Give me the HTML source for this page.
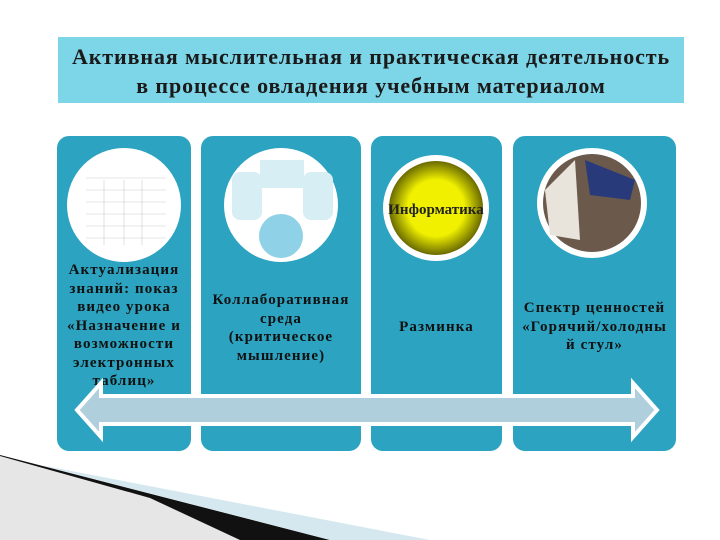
<!DOCTYPE html>
<html><head><meta charset="utf-8"><style>
body{margin:0;width:720px;height:540px;background:#fff;position:relative;overflow:hidden;font-family:"Liberation Serif",serif}
.t{position:absolute;left:58px;top:37px;width:626px;height:66px;background:#7dd5e8;color:#1a1a1a;font-weight:bold;font-size:22px;letter-spacing:0.9px;text-align:center;line-height:29px;padding-top:5px;box-sizing:border-box;white-space:nowrap}
.p{position:absolute;top:136px;height:315px;background:#2ca3c0;border-radius:12px}
.lbl{position:absolute;left:-10px;right:-10px;text-align:center;font-size:15px;letter-spacing:1.1px;font-weight:bold;line-height:18.5px;color:#111;white-space:nowrap}
.c{position:absolute;border-radius:50%;background:#fff}
</style></head><body>
<div class="t">Активная мыслительная и практическая деятельность<br>в процессе овладения учебным материалом</div>
<div class="p" style="left:57px;width:134px"><div class="lbl" style="top:125px">Актуализация<br>знаний: показ<br>видео урока<br>«Назначение и<br>возможности<br>электронных<br>таблиц»</div></div>
<div class="p" style="left:201px;width:160px"><div class="lbl" style="top:155px">Коллаборативная<br>среда<br>(критическое<br>мышление)</div></div>
<div class="p" style="left:371px;width:131px"><div class="lbl" style="top:182px">Разминка</div></div>
<div class="p" style="left:513px;width:163px"><div class="lbl" style="top:163px">Спектр ценностей<br>«Горячий/холодны<br>й стул»</div></div>
<div class="c" style="left:67px;top:148px;width:114px;height:114px"></div>
<div class="c" style="left:224px;top:148px;width:114px;height:114px;background:#fff"></div>
<svg width="720" height="540" style="position:absolute;left:0;top:0">
<defs><radialGradient id="g" cx="50%" cy="50%" r="50%"><stop offset="0.6" stop-color="#f0f000"/><stop offset="1" stop-color="#6a6a00"/></radialGradient></defs>
<g stroke="#ccc" stroke-width="0.6"><line x1="86" y1="178" x2="166" y2="178"/><line x1="86" y1="190" x2="166" y2="190"/><line x1="86" y1="202" x2="166" y2="202"/><line x1="86" y1="214" x2="166" y2="214"/><line x1="86" y1="226" x2="166" y2="226"/><line x1="86" y1="238" x2="166" y2="238"/><line x1="104" y1="180" x2="104" y2="245"/><line x1="124" y1="180" x2="124" y2="245"/><line x1="142" y1="180" x2="142" y2="245"/></g>
<rect x="260" y="160" width="44" height="28" fill="#d8eef5"/><rect x="232" y="172" width="30" height="48" rx="8" fill="#d8eef5"/><rect x="303" y="172" width="30" height="48" rx="8" fill="#d8eef5"/>
<ellipse cx="281" cy="236" rx="22" ry="22" fill="#8fd1e6"/>
<circle cx="436" cy="208" r="53" fill="#fff"/><circle cx="436" cy="208" r="47" fill="url(#g)"/>
<text x="436" y="214" font-family="Liberation Serif" font-size="15" font-weight="bold" text-anchor="middle" fill="#222">Информатика</text>
<circle cx="592" cy="203" r="55" fill="#fff"/><circle cx="592" cy="203" r="49" fill="#6b5a4c"/>
<path d="M545,190 L575,160 L580,240 L550,235Z" fill="#e8e4dc"/><path d="M585,160 L635,180 L630,200 L590,195Z" fill="#283a7a"/>
<polygon points="77,410 101,383 101,396 633,396 633,383 657,410 633,437 633,424 101,424 101,437" fill="#b0cfdc" stroke="#fff" stroke-width="4"/>
<polygon points="0,456 150,498 240,540 0,540" fill="#e6e6e6"/>
<polygon points="0,455 330,540 240,540 150,498 0,456" fill="#111"/>
<polygon points="40,465 330,540 430,540" fill="#d5e8ef"/>
</svg>
</body></html>
